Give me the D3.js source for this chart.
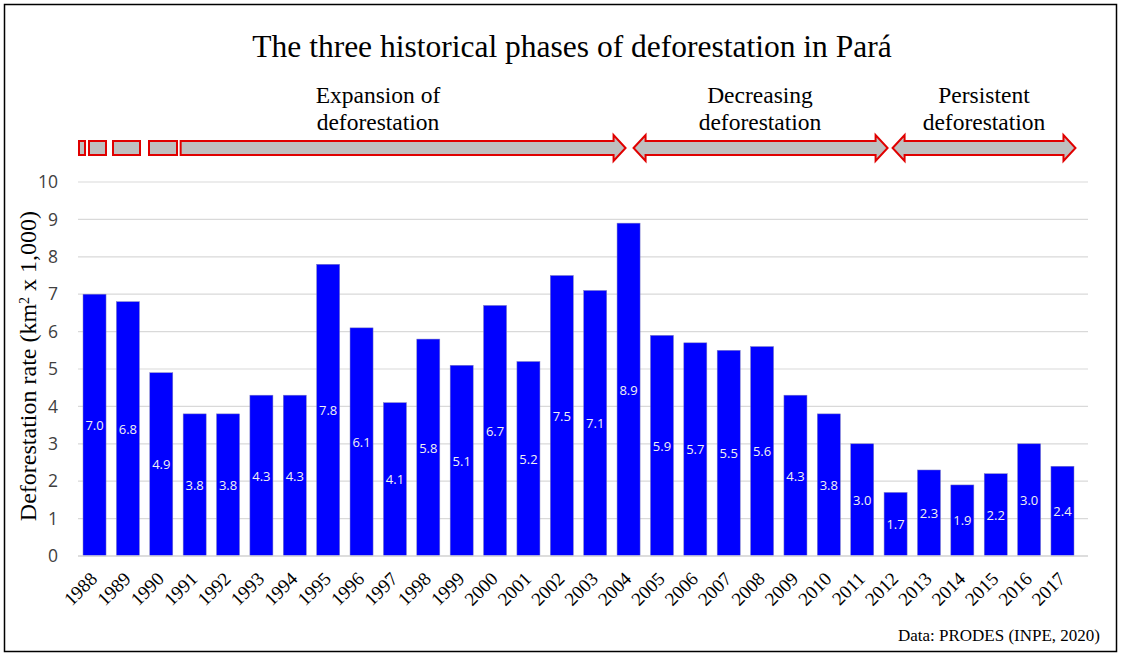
<!DOCTYPE html>
<html>
<head>
<meta charset="utf-8">
<script src="https://cdn.jsdelivr.net/npm/d3@7"></script>
<style>
  body { margin: 0; background: #fff; }
</style>
</head>
<body>
<div id="vis"></div>
<script>
// ----- DATA ----- //
const years = ["1988","1989","1990","1991","1992","1993","1994","1995","1996","1997",
  "1998","1999","2000","2001","2002","2003","2004","2005","2006","2007",
  "2008","2009","2010","2011","2012","2013","2014","2015","2016","2017"];
const rates = [7.0, 6.8, 4.9, 3.8, 3.8, 4.3, 4.3, 7.8, 6.1, 4.1,
  5.8, 5.1, 6.7, 5.2, 7.5, 7.1, 8.9, 5.9, 5.7, 5.5,
  5.6, 4.3, 3.8, 3.0, 1.7, 2.3, 1.9, 2.2, 3.0, 2.4];
const yTicks = [0, 1, 2, 3, 4, 5, 6, 7, 8, 9, 10];
const phaseNames = [["Expansion of", "deforestation"], ["Decreasing", "deforestation"], ["Persistent", "deforestation"]];
const phaseStart = ["1991", "2004", "2012"];
const phaseEnd = ["2004", "2012", "2017"];

const W = 1121, H = 657;
const margin = { top: 182, left: 78, right: 42, bottom: 101 };
const width = W - margin.left - margin.right;
const height = H - margin.top - margin.bottom;

const svg = d3.select("#vis").append("svg")
  .attr("width", W).attr("height", H);

// outer border
svg.append("rect")
  .attr("x", 4.5).attr("y", 4.5)
  .attr("width", W - 9).attr("height", H - 10)
  .attr("fill", "none").attr("stroke", "#000").attr("stroke-width", 1.5);

// title
svg.append("text")
  .attr("x", 572).attr("y", 57)
  .attr("text-anchor", "middle")
  .style("font-family", "Liberation Serif, serif")
  .style("font-size", "31.5px")
  .text("The three historical phases of deforestation in Pará");

const g = svg.append("g").attr("transform", `translate(${margin.left},${margin.top})`);

// ----- SCALES ----- //
let x = d3.scaleBand().domain(years).range([0, width]).paddingInner(0.31).paddingOuter(0.15);
let y = d3.scaleLinear().domain([0, 10]).range([height, 0]);

// gridlines
g.append("g")
  .selectAll("line")
  .data(yTicks)
  .join("line")
  .attr("x1", 0).attr("x2", width + 9)
  .attr("y1", d => y(d)).attr("y2", d => y(d))
  .attr("stroke", "#d9d9d9").attr("stroke-width", 1.2);

// y axis labels
let yAxis = d3.axisLeft(y).tickValues(yTicks).tickSize(0).tickPadding(20);
let yAxisGroup = g.append("g").call(yAxis);
yAxisGroup.select(".domain").remove();
yAxisGroup.selectAll("text")
  .style("font-family", "Open Sans, sans-serif")
  .style("font-size", "17.5px")
  .attr("fill", "#404040");

// y axis title
svg.append("text")
  .attr("transform", `translate(36,366) rotate(-90)`)
  .attr("text-anchor", "middle")
  .style("font-family", "Liberation Serif, serif")
  .style("font-size", "24px")
  .html('Deforestation rate (km<tspan baseline-shift="super" font-size="14px">2</tspan> x 1,000)');

// bars
g.selectAll(".bar")
  .data(rates)
  .join("rect")
  .attr("class", "bar")
  .attr("x", (d, i) => x(years[i]))
  .attr("y", d => y(d))
  .attr("width", x.bandwidth())
  .attr("height", d => height - y(d))
  .attr("fill", "#0000ff")
  .attr("stroke", "#8080c0")
  .attr("stroke-width", 0.5);

// value labels at middle of bars
g.selectAll(".val")
  .data(rates)
  .join("text")
  .attr("class", "val")
  .attr("x", (d, i) => x(years[i]) + x.bandwidth() / 2)
  .attr("y", d => (y(d) + height) / 2 + 5)
  .attr("text-anchor", "middle")
  .attr("fill", "#f2f2f2")
  .style("font-family", "Open Sans, sans-serif")
  .style("font-size", "13px")
  .text(d => d.toFixed(1));

// x axis line
g.append("line")
  .attr("x1", 0).attr("x2", width + 9)
  .attr("y1", height).attr("y2", height)
  .attr("stroke", "#d9d9d9").attr("stroke-width", 1.5);

// x axis labels
let xAxis = d3.axisBottom(x).tickSize(0).tickPadding(0);
let xAxisGroup = g.append("g").attr("transform", `translate(0,${height})`).call(xAxis);
xAxisGroup.select(".domain").remove();
xAxisGroup.selectAll("text")
  .attr("text-anchor", "end")
  .attr("dy", 0)
  .attr("transform", "translate(4,24) rotate(-45)")
  .attr("fill", "#000")
  .style("font-family", "Liberation Serif, serif")
  .style("font-size", "19px");

// ----- PHASE ARROWS ----- //
const ay = 148 - margin.top; // arrow centre y in g coords
const bodyH = 7, headH = 13, headL = 12;
const cx = d => x(d) + x.bandwidth() / 2;

function arrowPath(x0, x1, leftHead) {
  let p = [];
  if (leftHead) {
    p.push([x0, ay], [x0 + headL, ay - headH], [x0 + headL, ay - bodyH]);
  } else {
    p.push([x0, ay - bodyH]);
  }
  p.push([x1 - headL, ay - bodyH], [x1 - headL, ay - headH], [x1, ay],
    [x1 - headL, ay + headH], [x1 - headL, ay + bodyH]);
  if (leftHead) {
    p.push([x0 + headL, ay + bodyH], [x0 + headL, ay + headH]);
  } else {
    p.push([x0, ay + bodyH]);
  }
  return "M" + p.map(q => q.join(",")).join("L") + "Z";
}

const arrowX = [
  [cx(phaseStart[0]) - 14, cx(phaseEnd[0]) - 3, false],
  [cx(phaseEnd[0]) + 5, cx(phaseEnd[1]) - 8, true],
  [cx(phaseEnd[1]) - 3, cx(phaseEnd[2]) + 13, true]
];

g.selectAll(".arrow")
  .data(arrowX)
  .join("path")
  .attr("class", "arrow")
  .attr("d", d => arrowPath(d[0], d[1], d[2]))
  .attr("fill", "#bfbfbf")
  .attr("stroke", "#e00000")
  .attr("stroke-width", 2)
  .attr("stroke-linejoin", "miter");

// broken start of the expansion arrow
const dashStart = [[0, 6], [10, 27], [34, 61], [70, 98]];
g.selectAll(".dash")
  .data(dashStart)
  .join("rect")
  .attr("class", "dash")
  .attr("x", d => d[0] + 1)
  .attr("y", ay - bodyH)
  .attr("width", d => d[1] - d[0])
  .attr("height", bodyH * 2)
  .attr("fill", "#bfbfbf")
  .attr("stroke", "#e00000")
  .attr("stroke-width", 2);

// phase labels
const labelX = [378, 760, 984];
phaseNames.forEach((lines, i) => {
  let t = svg.append("text")
    .attr("text-anchor", "middle")
    .style("font-family", "Liberation Serif, serif")
    .style("font-size", "23.5px");
  lines.forEach((l, j) => {
    t.append("tspan").attr("x", labelX[i]).attr("y", 103 + j * 27).text(l);
  });
});

// source
svg.append("text")
  .attr("x", 1100).attr("y", 641)
  .attr("text-anchor", "end")
  .style("font-family", "Liberation Serif, serif")
  .style("font-size", "17px")
  .text("Data: PRODES (INPE, 2020)");
</script>
</body>
</html>
